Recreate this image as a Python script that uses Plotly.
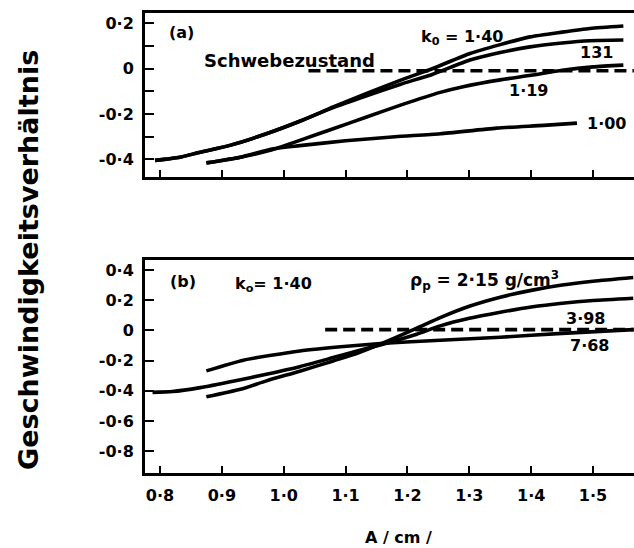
import plotly.graph_objects as go

# ---------------- data ----------------
# Panel (a): k0 curves
a140_x = [0.792, 0.832, 0.865, 0.913, 0.972, 1.026, 1.080, 1.134, 1.188, 1.241, 1.301, 1.350, 1.398, 1.450, 1.495, 1.549]
a140_y = [-0.404, -0.390, -0.368, -0.338, -0.287, -0.232, -0.169, -0.110, -0.052, 0.000, 0.066, 0.105, 0.139, 0.160, 0.176, 0.187]
a131_x = [0.792, 0.832, 0.865, 0.913, 0.972, 1.026, 1.080, 1.134, 1.188, 1.241, 1.301, 1.350, 1.398, 1.450, 1.495, 1.549]
a131_y = [-0.404, -0.390, -0.368, -0.338, -0.287, -0.232, -0.172, -0.120, -0.070, -0.025, 0.037, 0.070, 0.095, 0.112, 0.122, 0.125]
a119_x = [0.875, 0.930, 0.978, 1.026, 1.080, 1.134, 1.190, 1.253, 1.290, 1.350, 1.400, 1.450, 1.500, 1.549]
a119_y = [-0.415, -0.390, -0.360, -0.316, -0.265, -0.213, -0.160, -0.105, -0.080, -0.050, -0.030, -0.008, 0.007, 0.015]
a100_x = [0.875, 0.930, 0.983, 1.026, 1.100, 1.180, 1.253, 1.344, 1.420, 1.474]
a100_y = [-0.415, -0.390, -0.353, -0.339, -0.318, -0.300, -0.287, -0.262, -0.250, -0.240]
a_dash_x = [1.04, 1.566]
a_dash_y = [-0.01, -0.01]

# Panel (b): particle density curves
b215_x = [0.875, 0.930, 0.972, 1.026, 1.080, 1.120, 1.156, 1.199, 1.253, 1.300, 1.350, 1.400, 1.450, 1.500, 1.565]
b215_y = [-0.440, -0.390, -0.334, -0.270, -0.202, -0.150, -0.091, -0.015, 0.085, 0.160, 0.220, 0.265, 0.300, 0.325, 0.350]
b398_x = [0.788, 0.820, 0.865, 0.920, 0.972, 1.026, 1.080, 1.120, 1.156, 1.215, 1.253, 1.300, 1.350, 1.400, 1.450, 1.500, 1.565]
b398_y = [-0.410, -0.405, -0.379, -0.335, -0.290, -0.240, -0.180, -0.135, -0.096, -0.025, 0.030, 0.080, 0.120, 0.155, 0.180, 0.198, 0.213]
b768_x = [0.875, 0.935, 1.026, 1.107, 1.156, 1.253, 1.350, 1.450, 1.565]
b768_y = [-0.268, -0.197, -0.136, -0.103, -0.087, -0.065, -0.045, -0.020, 0.005]
b_dash_x = [1.067, 1.566]
b_dash_y = [0.005, 0.005]

# ticks
x_tickvals = [0.8, 0.9, 1.0, 1.1, 1.2, 1.3, 1.4, 1.5]
x_ticktext = ["0·8", "0·9", "1·0", "1·1", "1·2", "1·3", "1·4", "1·5"]
ya_tickvals = [0.2, 0.1, 0.0, -0.1, -0.2, -0.3, -0.4]
ya_ticktext = ["0·2", "", "0", "", "-0·2", "", "-0·4"]
yb_tickvals = [0.4, 0.2, 0.0, -0.2, -0.4, -0.6, -0.8]
yb_ticktext = ["0·4", "0·2", "0", "-0·2", "-0·4", "-0·6", "-0·8"]

# ---------------- figure ----------------
W, H = 634, 548
FONT = "DejaVu Sans"
LW = 3.6

fig = go.Figure()

def curve(x, y, xa, ya, dash=None):
    fig.add_trace(go.Scatter(
        x=x, y=y, mode="lines", xaxis=xa, yaxis=ya,
        line=dict(color="black", width=LW, shape="spline", smoothing=0.6,
                  dash=dash if dash else "solid"),
        showlegend=False, hoverinfo="skip"))

curve(a140_x, a140_y, "x", "y")
curve(a131_x, a131_y, "x", "y")
curve(a119_x, a119_y, "x", "y")
curve(a100_x, a100_y, "x", "y")
curve(a_dash_x, a_dash_y, "x", "y", dash="12px,6px")

curve(b215_x, b215_y, "x2", "y2")
curve(b398_x, b398_y, "x2", "y2")
curve(b768_x, b768_y, "x2", "y2")
curve(b_dash_x, b_dash_y, "x2", "y2", dash="12px,6px")

xrange = [0.7758, 1.5662]
xdom = [145 / W, 1.0]
ydom_a = [1 - 177 / H, 1 - 13 / H]
ydom_b = [1 - 473 / H, 1 - 260 / H]

tickfont = dict(family=FONT, size=16, color="black", weight="bold")

common_x = dict(range=xrange, domain=xdom, showline=True, linecolor="black",
                linewidth=3, mirror=True, ticks="inside", ticklen=7, tickwidth=2,
                tickcolor="black", showgrid=False, zeroline=False,
                tickvals=x_tickvals, ticktext=x_ticktext, tickfont=tickfont)
common_y = dict(showline=True, linecolor="black", linewidth=3, mirror=False,
                ticks="inside", ticklen=9, tickwidth=2, tickcolor="black",
                showgrid=False, zeroline=False, tickfont=tickfont,
                ticklabelstandoff=5)

fig.update_layout(
    width=W, height=H,
    margin=dict(l=0, r=0, t=0, b=0),
    paper_bgcolor="white", plot_bgcolor="white",
    xaxis=dict(**common_x, anchor="y", showticklabels=False),
    yaxis=dict(**common_y, domain=ydom_a, range=[-0.477, 0.244], anchor="x",
               tickvals=ya_tickvals, ticktext=ya_ticktext),
    xaxis2=dict(**common_x, anchor="y2", showticklabels=True, ticklabelstandoff=6),
    yaxis2=dict(**common_y, domain=ydom_b, range=[-0.944, 0.466], anchor="x2",
                tickvals=yb_tickvals, ticktext=yb_ticktext),
)

def label(text, x, y, xr="x", yr="y", size=16, **kw):
    fig.add_annotation(text=text, x=x, y=y, xref=xr, yref=yr, showarrow=False,
                       font=dict(family=FONT, size=size, color="black", weight="bold"),
                       xanchor="center", yanchor="middle", **kw)

# panel (a) labels
label("(a)", 0.834, 0.160)
label("k<sub>0</sub> = 1·40", 1.288, 0.138)
label("Schwebezustand", 1.009, 0.037, size=18)
label("131", 1.506, 0.072)
label("1·19", 1.395, -0.096)
label("1·00", 1.521, -0.242)

# panel (b) labels
label("(b)", 0.837, 0.321, "x2", "y2")
label("k<sub>o</sub>= 1·40", 0.983, 0.301, "x2", "y2")
label("ρ<sub>p</sub> = 2·15 g/cm<sup>3</sup>", 1.324, 0.328, "x2", "y2", size=17)
label("3·98", 1.487, 0.076, "x2", "y2")
label("7·68", 1.494, -0.103, "x2", "y2")

# axis titles
label("Geschwindigkeitsverhältnis", 28 / W, 1 - 260 / H, "paper", "paper", size=27,
      textangle=-90)
label("A / cm /", 398 / W, 1 - 537 / H, "paper", "paper", size=16)

fig.write_html(
    "out.html",
    config={"displayModeBar": False},
    post_script="document.body.style.margin='0';document.body.style.overflow='hidden';",
)
